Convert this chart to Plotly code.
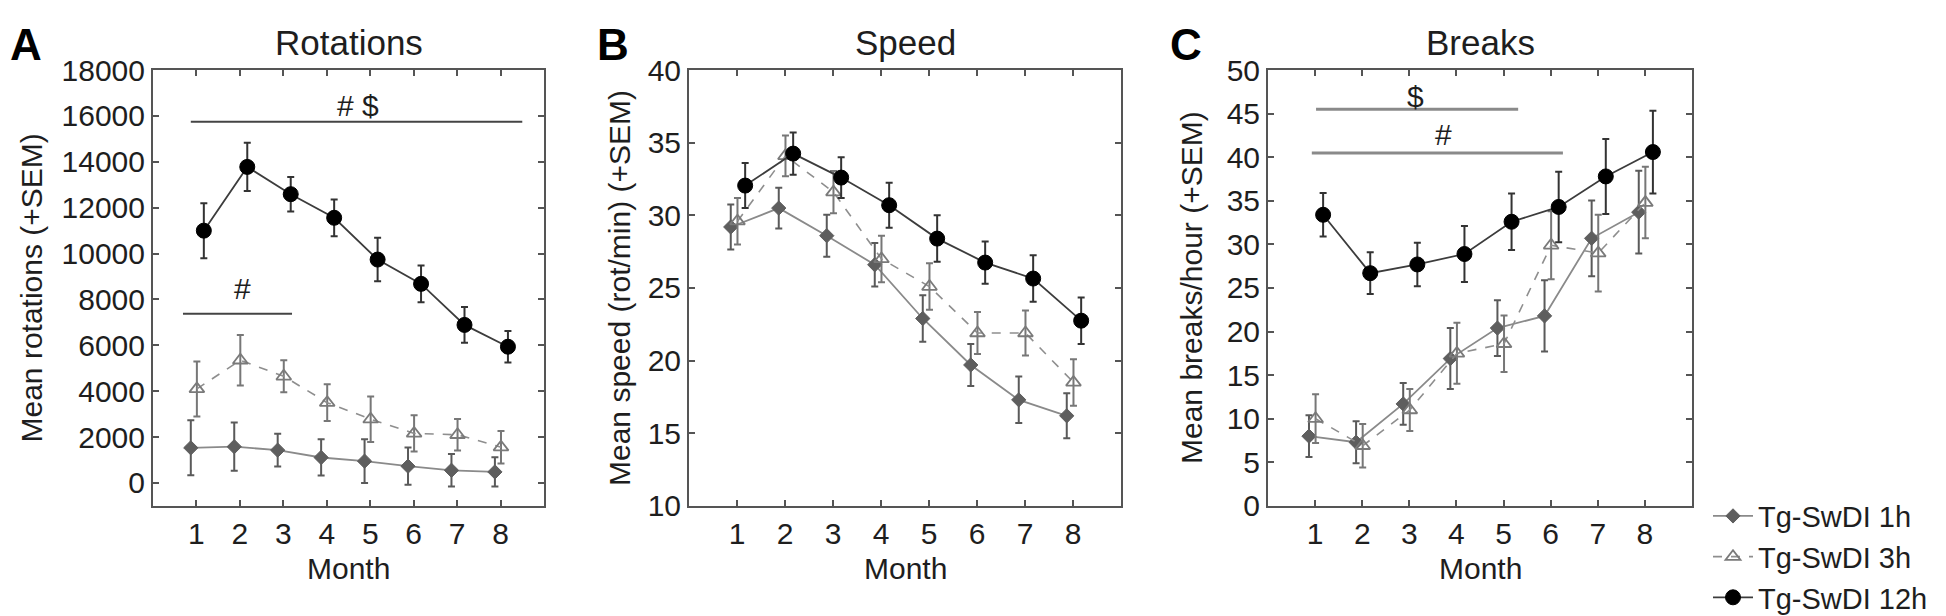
import plotly.graph_objects as go

# ---------------- data ----------------
months = [1, 2, 3, 4, 5, 6, 7, 8]
groups = ["Tg-SwDI 1h", "Tg-SwDI 3h", "Tg-SwDI 12h"]

rot_1h = [1530, 1580, 1430, 1110, 950, 730, 550, 480]
rot_1h_sem = [1200, 1050, 710, 790, 950, 810, 710, 635]
rot_3h = [4100, 5350, 4650, 3500, 2780, 2160, 2100, 1560]
rot_3h_sem = [1200, 1100, 700, 800, 990, 790, 690, 710]
rot_12h = [11000, 13780, 12590, 11560, 9740, 8680, 6890, 5940]
rot_12h_sem = [1200, 1050, 750, 800, 950, 800, 780, 690]

spd_1h = [29.2, 30.5, 28.6, 26.6, 22.9, 19.7, 17.3, 16.2]
spd_1h_sem = [1.55, 1.4, 1.45, 1.5, 1.6, 1.45, 1.6, 1.55]
spd_3h = [29.6, 34.1, 31.6, 27.0, 25.1, 21.9, 21.9, 18.5]
spd_3h_sem = [1.6, 1.4, 1.45, 1.6, 1.6, 1.45, 1.55, 1.6]
spd_12h = [32.05, 34.25, 32.6, 30.7, 28.4, 26.75, 25.65, 22.75]
spd_12h_sem = [1.55, 1.45, 1.4, 1.55, 1.6, 1.45, 1.6, 1.6]

brk_1h = [8.0, 7.3, 11.7, 16.9, 20.4, 21.8, 30.7, 33.7]
brk_1h_sem = [2.4, 2.4, 2.4, 3.5, 3.2, 4.1, 4.35, 4.75]
brk_3h = [10.0, 6.9, 11.0, 17.5, 18.6, 29.9, 29.0, 34.8]
brk_3h_sem = [2.8, 2.5, 2.4, 3.5, 3.25, 3.9, 4.4, 4.1]
brk_12h = [33.4, 26.7, 27.7, 28.9, 32.6, 34.3, 37.8, 40.6]
brk_12h_sem = [2.5, 2.4, 2.5, 3.2, 3.25, 4.05, 4.3, 4.75]

panel_titles = ["Rotations", "Speed", "Breaks"]
panel_letters = ["A", "B", "C"]
y_titles = ["Mean rotations (+SEM)", "Mean speed (rot/min) (+SEM)", "Mean breaks/hour (+SEM)"]
x_title = "Month"
y_ranges = [[-1000, 18000], [10, 40], [0, 50]]
y_ticks = [list(range(0, 18001, 2000)), list(range(10, 41, 5)), list(range(0, 51, 5))]

# significance bars: (panel, x0, x1, y, label, label_x, label_y)
sig_bars = [
    (0, 0.87, 8.50, 15750, "# $", 4.72, 16460),
    (0, 0.69, 3.20, 7374, "#", 2.07, 8484),
    (2, 1.02, 5.31, 45.5, "$", 3.14, 47.0),
    (2, 0.93, 6.26, 40.5, "#", 3.72, 42.6),
]

# ---------------- styling ----------------
W, H = 1946, 616
FONT = "Liberation Sans, Arial, sans-serif"
TXT = "#1e1e1e"
AX = "#555555"

def fx(px):
    return px / W

def fy(py):
    return 1 - py / H

box_x = [(145, 536), (681, 1113), (1260, 1684)]
box_top, box_bot = 50, 522.6
offsets = [-0.13, 0.01, 0.17]

styles = [
    dict(marker=dict(symbol="diamond", size=11, color="#5e5e5e",
                     line=dict(color="#5e5e5e", width=1)),
         line=dict(color="#8a8a8a", width=1.8),
         err="#5a5a5a"),
    dict(marker=dict(symbol="triangle-up-open", size=13, color="#7a7a7a",
                     line=dict(color="#7a7a7a", width=1.8)),
         line=dict(color="#8e8e8e", width=1.6, dash="dash"),
         err="#777777"),
    dict(marker=dict(symbol="circle", size=15, color="#000000",
                     line=dict(color="#000000", width=1)),
         line=dict(color="#3c3c3c", width=1.8),
         err="#333333"),
]

series = [
    [(rot_1h, rot_1h_sem), (rot_3h, rot_3h_sem), (rot_12h, rot_12h_sem)],
    [(spd_1h, spd_1h_sem), (spd_3h, spd_3h_sem), (spd_12h, spd_12h_sem)],
    [(brk_1h, brk_1h_sem), (brk_3h, brk_3h_sem), (brk_12h, brk_12h_sem)],
]

fig = go.Figure()

for p in range(3):
    xa = "x" if p == 0 else f"x{p+1}"
    ya = "y" if p == 0 else f"y{p+1}"
    for g in range(3):
        vals, sem = series[p][g]
        st = styles[g]
        fig.add_trace(go.Scatter(
            x=[m + offsets[g] for m in months], y=vals,
            mode="lines+markers", name=groups[g],
            showlegend=(p == 0),
            xaxis=xa, yaxis=ya,
            line=st["line"], marker=st["marker"],
            error_y=dict(type="data", array=sem, visible=True,
                         color=st["err"], thickness=2, width=3.5),
            cliponaxis=False,
        ))

axis_common = dict(
    showline=True, linecolor=AX, linewidth=2, mirror="ticks",
    ticks="inside", ticklen=6, tickwidth=1.5, tickcolor=AX,
    showgrid=False, zeroline=False, tickformat="d",
    tickfont=dict(family=FONT, size=30, color=TXT),
)

layout = dict(
    width=W, height=H,
    margin=dict(l=0, r=0, t=0, b=0),
    paper_bgcolor="white", plot_bgcolor="white",
    font=dict(family=FONT, color=TXT),
    showlegend=True,
    legend=dict(
        x=fx(1700), y=fy(506), xanchor="left", yanchor="top",
        font=dict(family=FONT, size=29, color=TXT),
        bgcolor="rgba(0,0,0,0)", itemwidth=40, tracegroupgap=0,
    ),
)

for p in range(3):
    suffix = "" if p == 0 else str(p + 1)
    layout["xaxis" + suffix] = dict(
        axis_common, domain=[fx(box_x[p][0]), fx(box_x[p][1])],
        range=[0, 9], tickvals=months, anchor="y" + suffix,
    )
    layout["yaxis" + suffix] = dict(
        axis_common, domain=[fy(box_bot), fy(box_top)],
        range=y_ranges[p], tickvals=y_ticks[p], anchor="x" + suffix,
    )

fig.update_layout(**layout)

annotations = []
shapes = []
letter_x = [0, 587, 1160]
ytitle_x = [23.5, 612, 1184]
for p in range(3):
    cx = (box_x[p][0] + box_x[p][1]) / 2
    annotations.append(dict(text=panel_letters[p], x=fx(letter_x[p]), y=fy(22.6),
                            xref="paper", yref="paper", xanchor="left", yanchor="middle",
                            showarrow=False,
                            font=dict(family=FONT, size=44, color="#000000", weight="bold")))
    annotations.append(dict(text=panel_titles[p], x=fx(cx), y=fy(19.6),
                            xref="paper", yref="paper", xanchor="center", yanchor="middle",
                            showarrow=False, font=dict(family=FONT, size=35, color=TXT)))
    annotations.append(dict(text=y_titles[p], x=fx(ytitle_x[p]), y=fy((box_top + box_bot) / 2),
                            xref="paper", yref="paper", xanchor="center", yanchor="middle",
                            textangle=-90, showarrow=False,
                            font=dict(family=FONT, size=30, color=TXT)))
    annotations.append(dict(text=x_title, x=fx(cx), y=fy(591),
                            xref="paper", yref="paper", xanchor="center", yanchor="middle",
                            showarrow=False, font=dict(family=FONT, size=30, color=TXT)))

for (p, x0, x1, yv, lab, lx, ly) in sig_bars:
    xa = "x" if p == 0 else f"x{p+1}"
    ya = "y" if p == 0 else f"y{p+1}"
    col = "#444444" if p == 0 else "#8a8a8a"
    wid = 2 if p == 0 else 3
    shapes.append(dict(type="line", xref=xa, yref=ya, x0=x0, x1=x1, y0=yv, y1=yv,
                       line=dict(color=col, width=wid)))
    annotations.append(dict(text=lab, x=lx, y=ly, xref=xa, yref=ya,
                            xanchor="center", yanchor="middle", showarrow=False,
                            font=dict(family=FONT, size=30, color=TXT)))

fig.update_layout(annotations=annotations, shapes=shapes)

fig.write_html("out.html")
